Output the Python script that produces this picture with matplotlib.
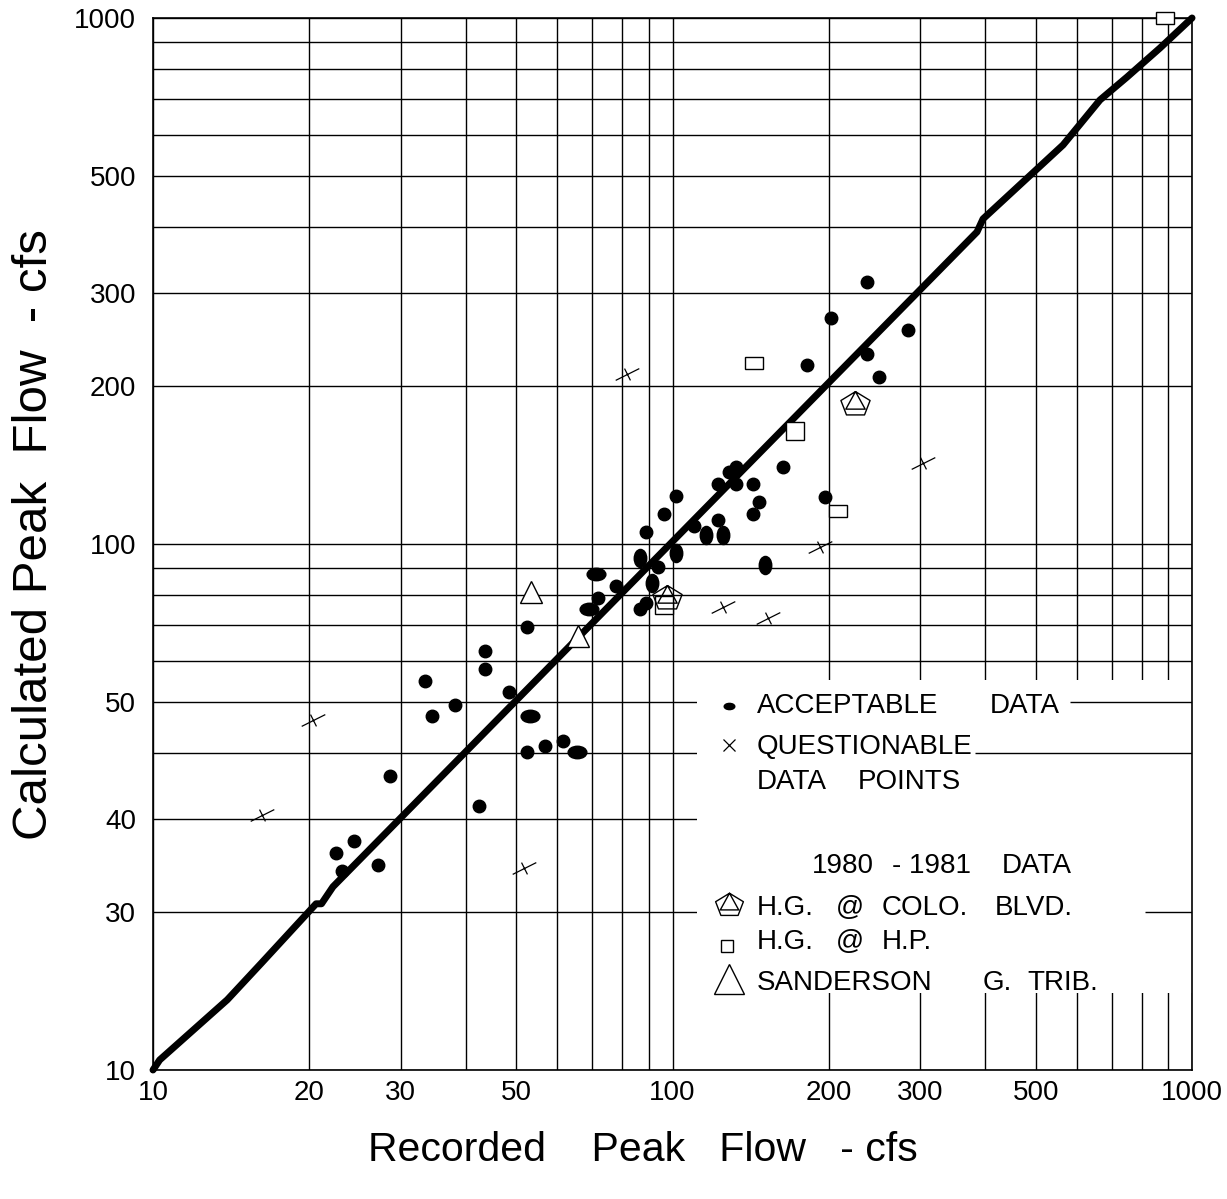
import matplotlib
matplotlib.use('Agg')
import matplotlib.pyplot as plt
from matplotlib.markers import MarkerStyle
from matplotlib.transforms import Affine2D
from matplotlib.patches import Rectangle
from matplotlib.path import Path
from matplotlib.ticker import LogLocator, NullFormatter, FixedLocator, FixedFormatter
import numpy as np

plt.rcParams['font.family'] = ['Liberation Sans', 'DejaVu Sans']

# 1:1 line as traced on the original (with its small kinks)
line_x = [10, 10.3, 13.9, 16.2, 20.6, 21.1, 22.2, 385.6, 396, 564.6, 665, 749.6, 867.8, 1000]
line_y = [10, 10.45, 13.6, 16.0, 20.7, 20.7, 22.3, 392, 415, 573.6, 698.5, 772, 877, 1000]

# acceptable data (recorded, calculated) - cfs
acc_x = [33.4, 34.4, 28.6, 24.4, 22.5, 23.1, 27.1, 42.4, 43.6, 43.6, 48.4, 38.2, 52.5, 52.5,
         56.8, 61.5, 78.0, 72.0, 93.6, 88.9, 86.7, 88.9, 96.3, 101.6, 109.9, 122.2, 122.2,
         128.6, 132.3, 132.3, 143.0, 146.9, 143.0, 163.4, 196.7, 202, 236.5, 284.4, 181.3,
         236.5, 249.4]
acc_y = [54.9, 47.0, 36.2, 27.2, 25.8, 23.9, 24.5, 31.8, 62.6, 57.8, 52.2, 49.5, 69.4, 40.2,
         41.3, 42.3, 83.3, 79.1, 90.3, 77.2, 75.1, 105.4, 113.9, 123.2, 108.2, 111.1, 129.9,
         136.9, 140.3, 129.9, 129.9, 120.2, 114.0, 140.3, 123.0, 269.3, 314.4, 255.5, 218.7,
         230.0, 207.4]
# overlapping pairs that print as wide / tall blobs
wide_x = [53.1, 65.6, 71.1, 69.2]
wide_y = [47.0, 40.2, 87.8, 75.1]
tall_x = [86.7, 91.3, 101.4, 115.9, 125.3, 150.9]
tall_y = [93.9, 84.4, 96.1, 104.0, 104.0, 91.3]

# questionable data points
q_x = [20.3, 16.2, 51.8, 81.7, 125.3, 152.9, 192.3, 303.9]
q_y = [46.3, 30.5, 24.2, 210.5, 76.0, 72.2, 98.8, 142.3]

# 1980 - 1981 data
colo_x = [97.7, 224.6]
colo_y = [79.1, 184.2]
hp_x = [143.2, 207.8, 887.2]
hp_y = [221.1, 115.3, 1002]
hp_sq_x = [172.3, 96.5]
hp_sq_y = [164.0, 76.7]
sand_x = [53.3, 65.7]
sand_y = [81.0, 66.8]

major = [10, 20, 30, 50, 100, 200, 300, 500, 1000]
xlabels = ['10', '20', '30', '50', '100', '200', '300', '500', '1000']
ylabels = ['10', '30', '40', '50', '100', '200', '300', '500', '1000']

fig = plt.figure(figsize=(12.27, 11.99), dpi=100)
ax = fig.add_axes([0.1247, 0.1076, 0.8468, 0.8774])
ax.set_xscale('log')
ax.set_yscale('log')
ax.set_xlim(10, 1000)
ax.set_ylim(10, 1000)

for axis, labs in ((ax.xaxis, xlabels), (ax.yaxis, ylabels)):
    axis.set_major_locator(FixedLocator(major))
    axis.set_major_formatter(FixedFormatter(labs))
    axis.set_minor_locator(LogLocator(base=10, subs=np.arange(2, 10)))
    axis.set_minor_formatter(NullFormatter())
ax.grid(True, which='both', color='black', lw=1.0)
ax.tick_params(which='both', length=0, labelsize=20)
ax.tick_params(axis='x', pad=7)
ax.tick_params(axis='y', pad=12)
for s in ax.spines.values():
    s.set_color('black')
    s.set_linewidth(1.2)

# blank area behind the key, with the grid pieces that still show at its right
ax.add_patch(Rectangle((0.5236, 0.073), 0.4764, 0.298, transform=ax.transAxes,
                       facecolor='white', edgecolor='none', zorder=2))
ax.hlines([50, 40, 20], [582, 382, 812], 1000, color='black', lw=1.0, zorder=2.2)

ax.plot(line_x, line_y, color='black', lw=5, solid_capstyle='round',
        solid_joinstyle='round', zorder=3, clip_on=False)

ax.plot(acc_x, acc_y, 'o', color='black', ms=9, ls='none', zorder=4)
ax.plot(wide_x, wide_y, ls='none', color='black', ms=9, zorder=4,
        marker=MarkerStyle('o', transform=Affine2D().scale(1.5, 1.0)))
ax.plot(tall_x, tall_y, ls='none', color='black', ms=9, zorder=4,
        marker=MarkerStyle('o', transform=Affine2D().scale(1.0, 1.45)))

# questionable: skewed cross
qpath = Path([(-1, -0.5), (1, 0.5), (-0.25, 0.5), (0.25, -0.5)],
             [Path.MOVETO, Path.LINETO, Path.MOVETO, Path.LINETO])
ax.plot(q_x, q_y, ls='none', marker=qpath, ms=17, mec='black', mew=0.9, zorder=4)

# pentagon with inscribed triangle
ang = np.pi / 2 + np.arange(5) * 2 * np.pi / 5
pv = [(np.cos(a), 0.84 * np.sin(a)) for a in ang]
tv = [(0, 0.84), (-0.63, -0.36 * 0.84), (0.63, -0.36 * 0.84)]
verts = pv + [pv[0]] + tv + [tv[0]]
codes = [Path.MOVETO] + [Path.LINETO] * 4 + [Path.CLOSEPOLY] + \
        [Path.MOVETO] + [Path.LINETO] * 2 + [Path.CLOSEPOLY]
colo_marker = Path(verts, codes)

ax.plot(hp_x, hp_y, ls='none', mfc='white', mec='black', mew=1.0, ms=13, zorder=5,
        marker=MarkerStyle('s', transform=Affine2D().scale(1.0, 0.67)), clip_on=False)
ax.plot(hp_sq_x, hp_sq_y, 's', ls='none', mfc='white', mec='black', mew=1.0, ms=13, zorder=5)
ax.plot(colo_x, colo_y, ls='none', marker=colo_marker, mfc='none', mec='black', mew=1.0,
        ms=21, zorder=6)
ax.plot(sand_x, sand_y, '^', ls='none', mfc='white', mec='black', mew=1.0, ms=16, zorder=5)

# key
tr = ax.transAxes
fs = 20
ax.plot([0.5544], [0.3460], transform=tr, ls='none', color='black', ms=4.5, zorder=7,
        marker=MarkerStyle('o', transform=Affine2D().scale(1.7, 1.0)))
ax.plot([0.5544], [0.3089], 'x', transform=tr, color='black', ms=9, mew=0.9, zorder=7)
ax.plot([0.5544], [0.1568], transform=tr, ls='none', marker=colo_marker, mfc='none',
        mec='black', mew=1.0, ms=20, zorder=7)
ax.plot([0.5525], [0.1179], 's', transform=tr, mfc='white', mec='black', mew=1.0, ms=9, zorder=7)
ax.plot([0.5548], [0.0865], '^', transform=tr, mfc='white', mec='black', mew=1.0, ms=21, zorder=7)

key_words = [
    (0.5813, 0.3394, 'ACCEPTABLE'), (0.8056, 0.3394, 'DATA'),
    (0.5813, 0.3004, 'QUESTIONABLE'),
    (0.5813, 0.2668, 'DATA'), (0.6785, 0.2668, 'POINTS'),
    (0.6343, 0.1870, '1980'), (0.7113, 0.1870, '- 1981'), (0.8171, 0.1870, 'DATA'),
    (0.5813, 0.1473, 'H.G.'), (0.6574, 0.1473, '@'), (0.7016, 0.1473, 'COLO.'),
    (0.8104, 0.1473, 'BLVD.'),
    (0.5813, 0.1147, 'H.G.'), (0.6574, 0.1147, '@'), (0.7016, 0.1147, 'H.P.'),
    (0.5813, 0.0760, 'SANDERSON'), (0.7988, 0.0760, 'G.'), (0.8412, 0.0760, 'TRIB.'),
]
for x, y, w in key_words:
    ax.text(x, y, w, transform=tr, fontsize=fs, ha='left', va='baseline', zorder=7)

fig.text(0.5241, 0.0405, 'Recorded    Peak   Flow   - cfs', fontsize=29.5,
         ha='center', va='center')
fig.text(0.0285, 0.5538, 'Calculated Peak  Flow  - cfs', fontsize=35.5,
         ha='center', va='center', rotation=90)

fig.savefig('out.png', dpi=100)
